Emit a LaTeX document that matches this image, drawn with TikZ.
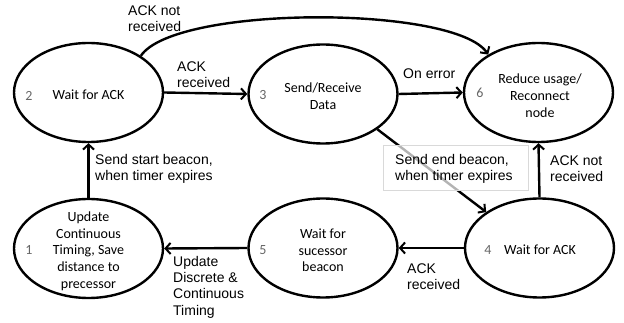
\documentclass[tikz,border=0pt]{standalone}
\usepackage{fontspec}
\setmainfont{Carlito}
\newfontfamily\labelfont{Liberation Sans}
\usetikzlibrary{shapes.geometric,arrows.meta}
\begin{document}
\begin{tikzpicture}[x=1pt,y=-1pt,
  state/.style={draw=black,line width=2.4pt,ellipse,minimum width=149pt,minimum height=99pt,inner sep=0pt},
  stxt/.style={align=center,inner sep=0pt,font=\fontsize{14}{16.7}\selectfont},
  num/.style={inner sep=0pt,text=black!60,font=\fontsize{14}{16.7}\selectfont},
  lbl/.style={align=left,anchor=west,inner sep=0pt,font=\labelfont\fontsize{14}{16.3}\selectfont},
  arr/.style={line width=2.4pt,-{Straight Barb[length=5pt,width=11pt,line width=2pt]}}]
\useasboundingbox (0,0) rectangle (624,323);

% states
\node[state] (s2) at (88.5,92.5) {};
\node[state] (s3) at (323,94) {};
\node[state] (s6) at (538.5,92.5) {};
\node[state] (s1) at (88.5,248.5) {};
\node[state] (s5) at (323,248) {};
\node[state] (s4) at (539.5,248) {};

% state texts
\node[stxt] at (88.5,95) {Wait for ACK};
\node[stxt] at (323,96) {Send/Receive\\Data};
\node[stxt] at (540,95.5) {Reduce usage/\\Reconnect\\node};
\node[stxt] at (88.5,251) {Update\\Continuous\\Timing, Save\\distance to\\precessor};
\node[stxt] at (323,250.5) {Wait for\\sucessor\\beacon};
\node[stxt] at (540,250) {Wait for ACK};

% state numbers
\node[num] at (29,96) {2};
\node[num] at (263,95) {3};
\node[num] at (480,93) {6};
\node[num] at (29,250) {1};
\node[num] at (263,250) {5};
\node[num] at (488,250) {4};

% transitions
\draw[arr] (s2.east) -- (s3.west);
\draw[arr] (s3.east) -- (s6.west);
\draw[arr] (s2.35) .. controls (175,5) and (455,5) .. (s6.143);
\draw[arr] (s1.north) -- (s2.south);
\draw[arr] (s4.north) -- (s6.south);
\draw[arr] (s5.west) -- (s1.east);
\draw[arr] (s4.west) -- (s5.east);
\draw[arr] (s3.-33) -- (s4.146);

% label box over the diagonal transition
\node[draw=black!15,line width=0.6pt,fill=white,fill opacity=0.7,minimum width=145pt,minimum height=45pt,inner sep=0pt] (lb) at (455.5,167.5) {};

% transition labels
\node[lbl] at (128,19) {ACK not\\received};
\node[lbl] at (177,74.5) {ACK\\received};
\node[lbl] at (403,74) {On error};
\node[lbl] at (395,169) {Send end beacon,\\when timer expires};
\node[lbl] at (550,169) {ACK not\\received};
\node[lbl] at (95,169) {Send start beacon,\\when timer expires};
\node[lbl] at (173,287) {Update\\Discrete \&\\Continuous\\Timing};
\node[lbl] at (407,276.5) {ACK\\received};
\end{tikzpicture}
\end{document}
